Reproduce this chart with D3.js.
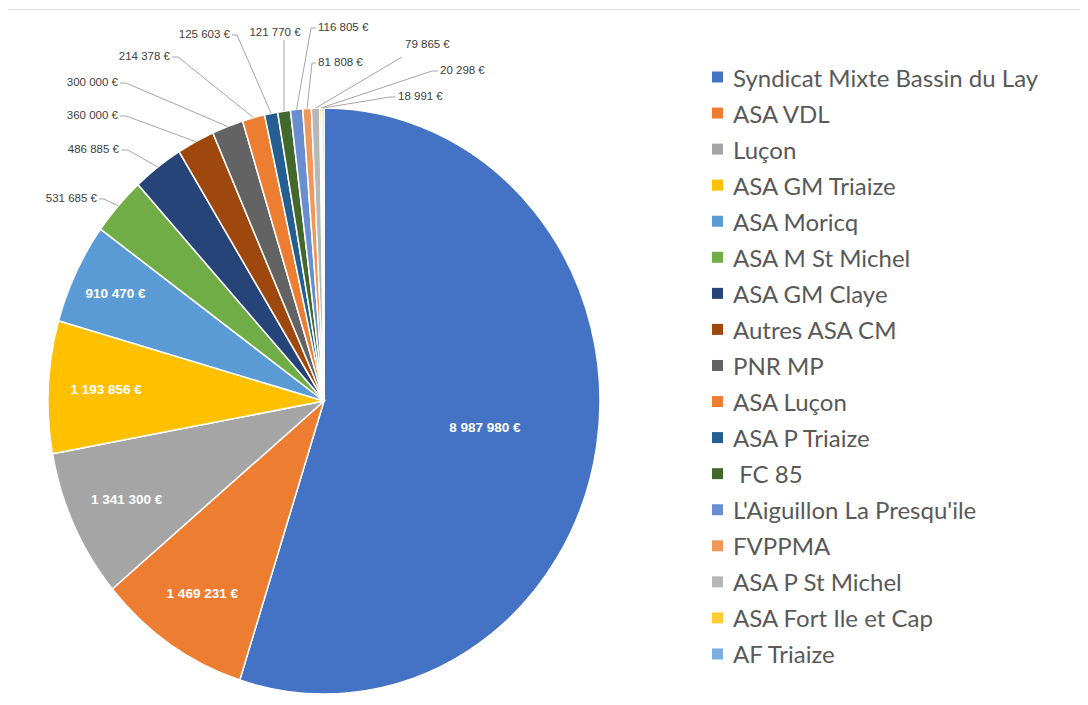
<!DOCTYPE html>
<html>
<head>
<meta charset="utf-8">
<script src="https://cdn.jsdelivr.net/npm/d3@7"></script>
<style>
  html, body { margin: 0; padding: 0; background: #fff; }
  svg { display: block; }
</style>
</head>
<body>
<svg id="chart" width="1088" height="705"></svg>
<script>
// ---- data ----
const categories = [
  "Syndicat Mixte Bassin du Lay", "ASA VDL", "Luçon", "ASA GM Triaize", "ASA Moricq",
  "ASA M St Michel", "ASA GM Claye", "Autres ASA CM", "PNR MP", "ASA Luçon",
  "ASA P Triaize", " FC 85", "L'Aiguillon La Presqu'ile", "FVPPMA", "ASA P St Michel",
  "ASA Fort Ile et Cap", "AF Triaize"
];
const values = [
  8987980, 1469231, 1341300, 1193856, 910470,
  531685, 486885, 360000, 300000, 214378,
  125603, 121770, 116805, 81808, 79865,
  20298, 18991
];
const colors = [
  "#4472C4", "#ED7D31", "#A5A5A5", "#FFC000", "#5B9BD5",
  "#70AD47", "#264478", "#9E480E", "#636363", "#ED7D31",
  "#255E91", "#43682B", "#698ED0", "#F1975A", "#B7B7B7",
  "#FFCD33", "#7CAFDD"
];

// layout of outside labels (label anchor position, text-anchor, leader start)
const outsideLayout = {
  5:  {x: 97,  y: 198, anchor: "end",    lx: 99,  ly: 199, ex: 104},
  6:  {x: 119, y: 149, anchor: "end",    lx: 121, ly: 150, ex: 128},
  7:  {x: 118, y: 115, anchor: "end",    lx: 120, ly: 116, ex: 126},
  8:  {x: 118, y: 82,  anchor: "end",    lx: 120, ly: 83,  ex: 126},
  9:  {x: 170, y: 56,  anchor: "end",    lx: 172, ly: 57,  ex: 178},
  10: {x: 230, y: 34,  anchor: "end",    lx: 232, ly: 35,  ex: 237},
  11: {x: 275, y: 32,  anchor: "middle", lx: 284, ly: 40,  ex: 284},
  12: {x: 318, y: 27,  anchor: "start",  lx: 316, ly: 28,  ex: 311},
  13: {x: 318, y: 62,  anchor: "start",  lx: 316, ly: 63,  ex: 312},
  14: {x: 405, y: 44,  anchor: "start",  lx: 402, ly: 57,  ex: 402},
  15: {x: 440, y: 70,  anchor: "start",  lx: 438, ly: 71,  ex: 432},
  16: {x: 398, y: 96,  anchor: "start",  lx: 395, ly: 97,  ex: 390}
};

const fmt = v => d3.format(",")(v).replace(/,/g, " ") + " €";

const svg = d3.select("#chart");

// top border line
svg.append("line")
  .attr("x1", 8).attr("x2", 1080).attr("y1", 9.5).attr("y2", 9.5)
  .attr("stroke", "#d9d9d9").attr("stroke-width", 1);

const cx = 324, cy = 401, rx = 276, ry = 293;
const sy = ry / rx;

const pie = d3.pie().sort(null).value(d => d)(values);
const arc = d3.arc().innerRadius(0).outerRadius(rx);

const g = svg.append("g").attr("transform", `translate(${cx},${cy}) scale(1,${sy})`);
g.selectAll("path").data(pie).join("path")
  .attr("d", arc)
  .attr("fill", (d, i) => colors[i])
  .attr("stroke", "#fff")
  .attr("stroke-width", 1.5)
  .attr("vector-effect", "non-scaling-stroke");

function pt(angle, r) {
  return [cx + r * Math.sin(angle), cy - r * Math.cos(angle) * sy];
}

// inside labels
const labels = svg.append("g");
pie.forEach((d, i) => {
  if (outsideLayout[i]) return;
  const span = d.endAngle - d.startAngle;
  const mid = (d.startAngle + d.endAngle) / 2;
  const f = span > Math.PI ? 0.59 : (i === 4 ? 0.84 : 0.79);
  const [x, y] = pt(mid, rx * f);
  labels.append("text")
    .attr("x", x).attr("y", y)
    .attr("text-anchor", "middle").attr("dominant-baseline", "central")
    .attr("font-family", "'Liberation Sans', Arial, sans-serif")
    .attr("font-weight", "bold").attr("font-size", 13.5)
    .attr("fill", "#fff")
    .text(fmt(values[i]));
});

// outside labels with leader lines
pie.forEach((d, i) => {
  const L = outsideLayout[i];
  if (!L) return;
  const mid = (d.startAngle + d.endAngle) / 2;
  const [px, py] = pt(mid, rx);
  labels.append("path")
    .attr("d", `M${L.lx},${L.ly}L${L.ex},${L.ly}L${px},${py}`)
    .attr("fill", "none").attr("stroke", "#a6a6a6").attr("stroke-width", 1);
  labels.append("text")
    .attr("x", L.x).attr("y", L.y)
    .attr("text-anchor", L.anchor).attr("dominant-baseline", "central")
    .attr("font-family", "'Liberation Sans Narrow', 'Liberation Sans', Arial, sans-serif")
    .attr("font-size", 11.5)
    .attr("fill", "#404040")
    .text(fmt(values[i]));
});

// legend
const legend = svg.append("g");
const ly0 = 77, lstep = 36.06;
categories.forEach((c, i) => {
  const y = ly0 + i * lstep;
  legend.append("rect")
    .attr("x", 712).attr("y", y - 5.5).attr("width", 11).attr("height", 11)
    .attr("fill", colors[i]);
  legend.append("text")
    .attr("x", 733).attr("y", y)
    .attr("dominant-baseline", "central")
    .attr("font-family", "Lato, 'Open Sans', sans-serif")
    .attr("font-size", 24)
    .attr("fill", "#595959")
    .attr("xml:space", "preserve")
    .text(c);
});
</script>
</body>
</html>
